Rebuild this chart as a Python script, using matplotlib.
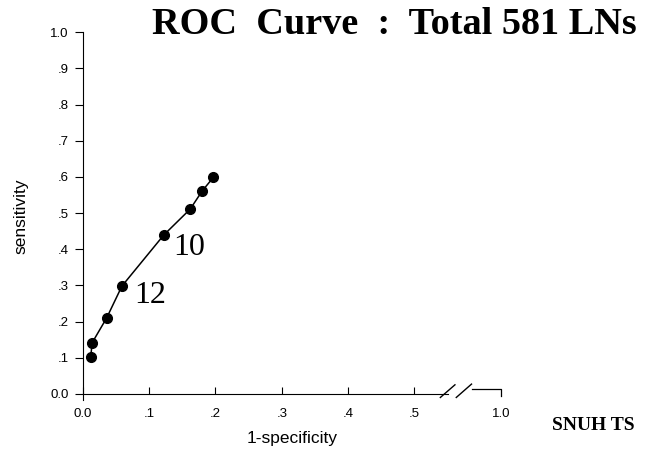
import numpy as np
import matplotlib
matplotlib.use("Agg")
import matplotlib.pyplot as plt

# ROC points
fpr = [0.012, 0.014, 0.036, 0.059, 0.122, 0.162, 0.180, 0.197]
sens = [0.102, 0.141, 0.210, 0.298, 0.439, 0.511, 0.561, 0.599]

xticks = [0.0, 0.1, 0.2, 0.3, 0.4, 0.5]
xticklabels = ["0.0", ".1", ".2", ".3", ".4", ".5"]
yticks = [0.0, 0.1, 0.2, 0.3, 0.4, 0.5, 0.6, 0.7, 0.8, 0.9, 1.0]
yticklabels = ["0.0", ".1", ".2", ".3", ".4", ".5", ".6", ".7", ".8", ".9", "1.0"]

# where "1.0" sits on the broken x axis
x_end = 0.63

sans = ["Liberation Sans", "DejaVu Sans"]
serif = ["Liberation Serif", "DejaVu Serif"]

fig = plt.figure(figsize=(6.52, 4.53), dpi=100)
ax = fig.add_axes([0.127, 0.117, 0.643, 0.812])

ax.plot(fpr, sens, color="black", lw=1.1, marker="o", ms=7, mfc="black", mec="black")

ax.text(0.101, 0.273, "12", fontsize=23, family=serif, ha="center", va="center")
ax.text(0.161, 0.406, "10", fontsize=23, family=serif, ha="center", va="center")

ax.set_xlim(0, x_end + 0.002)
ax.set_ylim(-0.017, 1.0)

for s in ["top", "right"]:
    ax.spines[s].set_visible(False)
ax.spines["bottom"].set_position(("data", 0))
ax.spines["bottom"].set_bounds(0, 0.550)
ax.spines["left"].set_bounds(-0.017, 1.0)

# right-hand piece of the broken x axis, slashes and end tick
ax.plot([0.586, x_end, x_end], [0.014, 0.014, -0.007], color="black", lw=0.9, clip_on=False)
ax.plot([0.539, 0.561], [-0.010, 0.025], color="black", lw=1.0, clip_on=False)
ax.plot([0.563, 0.586], [-0.010, 0.027], color="black", lw=1.0, clip_on=False)

ax.set_xticks(xticks + [x_end])
ax.set_xticklabels(xticklabels + ["1.0"], family=sans, fontsize=9.5)
ax.set_yticks(yticks)
ax.set_yticklabels(yticklabels, family=sans, fontsize=9.5)
ax.tick_params(axis="x", direction="in", length=5, pad=10)
ax.tick_params(axis="y", direction="out", length=6, pad=4)
ax.xaxis.get_major_ticks()[-1].tick1line.set_visible(False)

ax.set_xlabel("1-specificity", family=sans, fontsize=12.5, labelpad=8)
ax.set_ylabel("sensitivity", family=sans, fontsize=12.5, labelpad=16)

fig.text(0.233, 0.946, "ROC  Curve  :  Total 581 LNs", family=serif, fontsize=27.5,
         fontweight="bold", ha="left", va="center")
fig.text(0.847, 0.060, "SNUH TS", family=serif, fontsize=14, fontweight="bold",
         ha="left", va="center")

fig.savefig("out.png", dpi=100)
